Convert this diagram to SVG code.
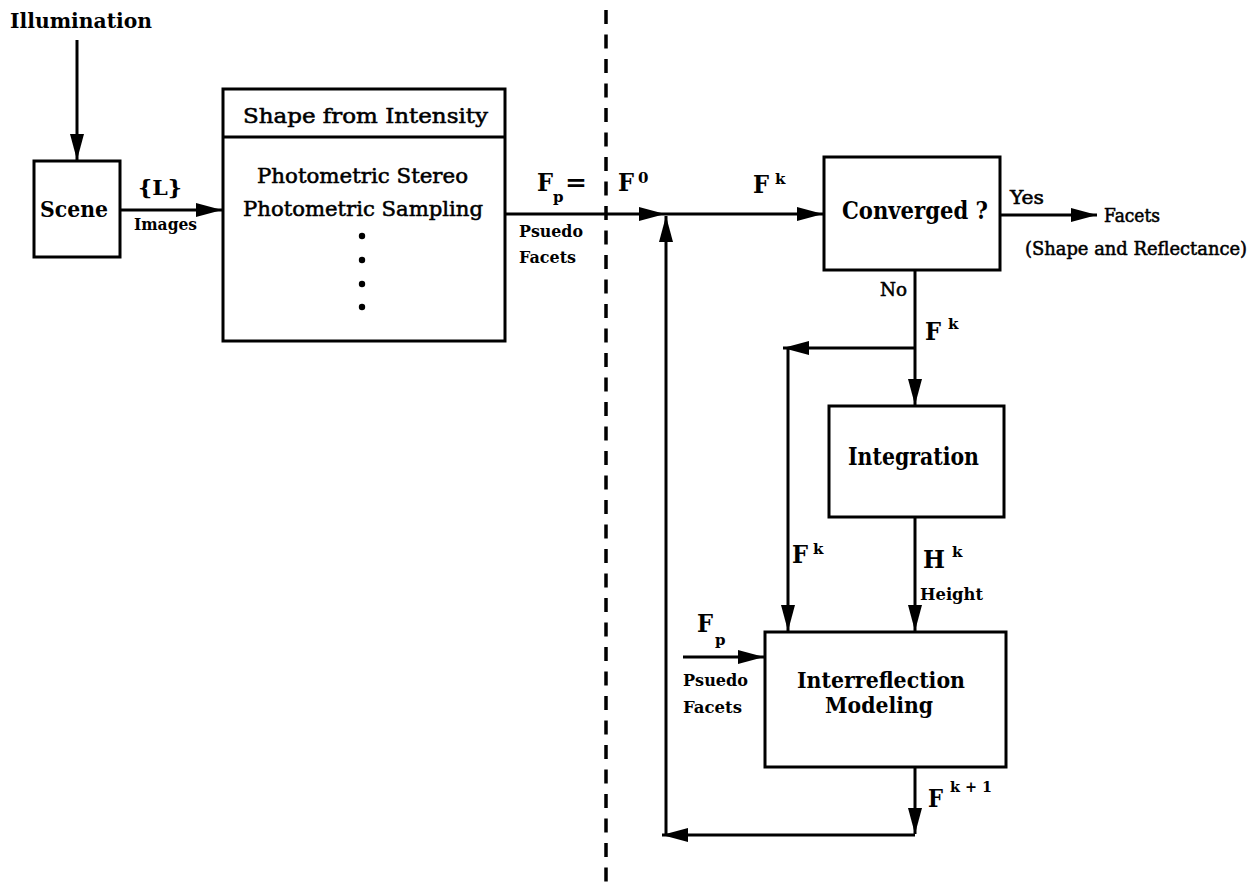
<svg xmlns="http://www.w3.org/2000/svg" width="1257" height="889" viewBox="0 0 1257 889">
<style>
text { font-family: "DejaVu Serif", "Liberation Serif", serif; fill: #000; }
.b { font-weight: bold; }
.r { font-weight: normal; stroke: #000; stroke-width: 0.55; }
.box { fill: #fff; stroke: #000; stroke-width: 3; }
.conn { fill: none; stroke: #000; stroke-width: 3; }
.arr { marker-end: url(#ah); }
.F { font-size: 24px; font-weight: bold; }
.sup { font-size: 15px; font-weight: bold; }
.sm { font-size: 17px; font-weight: bold; }
</style>
<defs>
<marker id="ah" markerUnits="userSpaceOnUse" markerWidth="26" markerHeight="14" viewBox="0 0 26 14" refX="26" refY="7" orient="auto">
<path d="M0,0 L26,7 L0,14 z" fill="#000"/>
</marker>
</defs>
<rect width="1257" height="889" fill="#fff"/>

<g id="divider">
<line x1="606" y1="10" x2="606" y2="889" stroke="#000" stroke-width="3.5" stroke-dasharray="14 10.5"/>
</g>

<g id="connectors">
<path class="conn arr" d="M77,40 V160"/>
<path class="conn arr" d="M120,210 H222"/>
<path class="conn arr" d="M505,214 H665"/>
<path class="conn arr" d="M665,214 H823"/>
<path class="conn arr" d="M666,835 V216"/>
<path class="conn arr" d="M1000,215 H1097"/>
<path class="conn arr" d="M915,270 V405"/>
<path class="conn arr" d="M915,348 H783"/>
<path class="conn arr" d="M788,348 V631"/>
<path class="conn arr" d="M915,517 V631"/>
<path class="conn arr" d="M683,657 H764"/>
<path class="conn arr" d="M915,767 V834"/>
<path class="conn arr" d="M915,835 H662"/>
</g>

<g id="node-illumination">
<text class="b" x="10" y="28" font-size="20" textLength="142" lengthAdjust="spacingAndGlyphs">Illumination</text>
</g>

<g id="node-scene">
<rect class="box" x="34" y="161" width="86" height="96"/>
<text class="b" x="40" y="217" font-size="23" textLength="68" lengthAdjust="spacingAndGlyphs">Scene</text>
</g>

<g id="node-shape">
<rect class="box" x="223" y="89" width="282" height="252"/>
<line x1="223" y1="137" x2="505" y2="137" stroke="#000" stroke-width="3"/>
<text class="r" x="243" y="123" font-size="21" textLength="245" lengthAdjust="spacingAndGlyphs">Shape  from Intensity</text>
<text class="r" x="257" y="183" font-size="21" textLength="211" lengthAdjust="spacingAndGlyphs">Photometric  Stereo</text>
<text class="r" x="243" y="216" font-size="21" textLength="240" lengthAdjust="spacingAndGlyphs">Photometric Sampling</text>
<circle cx="362" cy="236" r="3.2"/>
<circle cx="362" cy="260" r="3.2"/>
<circle cx="362" cy="284" r="3.2"/>
<circle cx="362" cy="307" r="3.2"/>
</g>

<g id="node-converged">
<rect class="box" x="824" y="157" width="176" height="113"/>
<text class="b" x="842" y="219" font-size="25" textLength="146" lengthAdjust="spacingAndGlyphs">Converged ?</text>
</g>

<g id="node-output">
<text class="r" x="1104" y="222" font-size="18" textLength="56" lengthAdjust="spacingAndGlyphs">Facets</text>
<text class="r" x="1025" y="255" font-size="18" textLength="222" lengthAdjust="spacingAndGlyphs">(Shape and Reflectance)</text>
</g>

<g id="node-integration">
<rect class="box" x="829" y="406" width="175" height="111"/>
<text class="b" x="848" y="465" font-size="24" textLength="131" lengthAdjust="spacingAndGlyphs">Integration</text>
</g>

<g id="node-interreflection">
<rect class="box" x="765" y="632" width="241" height="135"/>
<text class="b" x="797" y="688" font-size="23" textLength="168" lengthAdjust="spacingAndGlyphs">Interreflection</text>
<text class="b" x="825" y="713" font-size="23" textLength="108" lengthAdjust="spacingAndGlyphs">Modeling</text>
</g>

<g id="labels">
<text class="b" x="138" y="195" font-size="21" textLength="44" lengthAdjust="spacingAndGlyphs">{L}</text>
<text class="sm" x="134" y="230" textLength="63" lengthAdjust="spacingAndGlyphs">Images</text>

<text class="F" x="537" y="191" textLength="16" lengthAdjust="spacingAndGlyphs">F</text>
<text class="sup" x="553" y="202">p</text>
<text class="F" x="565" y="191" textLength="22" lengthAdjust="spacingAndGlyphs">=</text>
<text class="F" x="618" y="191" textLength="16" lengthAdjust="spacingAndGlyphs">F</text>
<text class="sup" x="638" y="183">0</text>
<text class="sm" x="519" y="237" textLength="64" lengthAdjust="spacingAndGlyphs">Psuedo</text>
<text class="sm" x="519" y="263" textLength="57" lengthAdjust="spacingAndGlyphs">Facets</text>

<text class="F" x="753" y="193" textLength="16" lengthAdjust="spacingAndGlyphs">F</text>
<text class="sup" x="775" y="184">k</text>

<text class="r" x="1010" y="204" font-size="18" textLength="34" lengthAdjust="spacingAndGlyphs">Yes</text>
<text class="r" x="880" y="296" font-size="18" textLength="27" lengthAdjust="spacingAndGlyphs">No</text>

<text class="F" x="925" y="340" textLength="16" lengthAdjust="spacingAndGlyphs">F</text>
<text class="sup" x="948" y="329">k</text>

<text class="F" x="792" y="563" textLength="16" lengthAdjust="spacingAndGlyphs">F</text>
<text class="sup" x="813" y="554">k</text>

<text class="F" x="923" y="568" textLength="22" lengthAdjust="spacingAndGlyphs">H</text>
<text class="sup" x="952" y="557">k</text>
<text class="sm" x="920" y="600" textLength="63" lengthAdjust="spacingAndGlyphs">Height</text>

<text class="F" x="697" y="632" textLength="16" lengthAdjust="spacingAndGlyphs">F</text>
<text class="sup" x="715" y="645">p</text>
<text class="sm" x="683" y="686" textLength="65" lengthAdjust="spacingAndGlyphs">Psuedo</text>
<text class="sm" x="683" y="713" textLength="59" lengthAdjust="spacingAndGlyphs">Facets</text>

<text class="F" x="928" y="807" textLength="15" lengthAdjust="spacingAndGlyphs">F</text>
<text class="sup" x="950" y="792" textLength="42" lengthAdjust="spacingAndGlyphs">k + 1</text>
</g>
</svg>
